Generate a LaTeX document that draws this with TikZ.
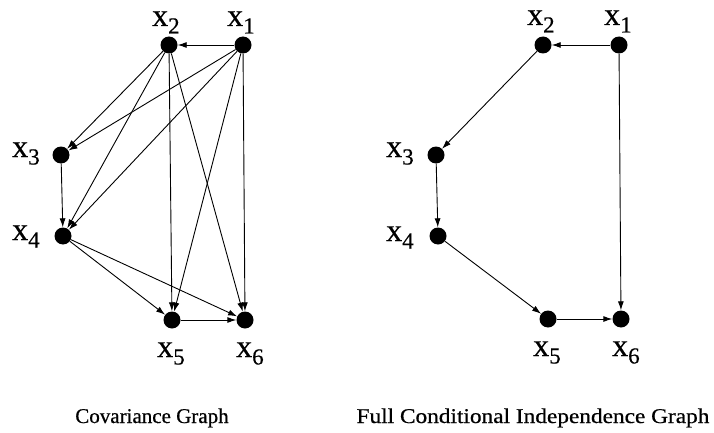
\documentclass[tikz,border=0pt]{standalone}
\usepackage{fontspec}
\setmainfont{Liberation Serif}
\newfontfamily\heavyfont[FakeBold=0.4]{Liberation Serif}
\newfontfamily\capfont[FakeBold=0.6]{Liberation Serif}
\usetikzlibrary{arrows.meta}
\newcommand{\xlab}[1]{{\heavyfont\fontsize{32}{32}\selectfont x}\raisebox{-7.5pt}{\heavyfont\fontsize{23}{23}\selectfont #1}}
\begin{document}
\begin{tikzpicture}[x=1pt,y=-1pt,
  dot/.style={circle,fill=black,inner sep=0pt,minimum size=17pt},
  lab/.style={anchor=base west,inner sep=0pt},
  conn/.style={line width=0.9pt,-{Latex[length=9pt,width=6pt]}},
  captxt/.style={font=\capfont\fontsize{21}{21}\selectfont,inner sep=0pt,anchor=base}]
\useasboundingbox (0,0) rectangle (714,433);
% left graph
\node[dot] (a1) at (243,45) {};
\node[dot] (a2) at (169,45) {};
\node[dot] (a3) at (61,155) {};
\node[dot] (a4) at (63,236) {};
\node[dot] (a5) at (172,320) {};
\node[dot] (a6) at (245,320) {};
\node[lab] (la1) at (227,26) {\xlab{1}};
\node[lab] (la2) at (152,26) {\xlab{2}};
\node[lab] (la3) at (12,157) {\xlab{3}};
\node[lab] (la4) at (12,240) {\xlab{4}};
\node[lab] (la5) at (157,357) {\xlab{5}};
\node[lab] (la6) at (236,357) {\xlab{6}};
\draw[conn] (a1) -- (a2);
\draw[conn] (a2) -- (a3);
\draw[conn] (a1) -- (a3);
\draw[conn] (a2) -- (a4);
\draw[conn] (a1) -- (a4);
\draw[conn] (a3) -- (a4);
\draw[conn] (a2) -- (a5);
\draw[conn] (a1) -- (a5);
\draw[conn] (a2) -- (a6);
\draw[conn] (a1) -- (a6);
\draw[conn] (a4) -- (a5);
\draw[conn] (a4) -- (a6);
\draw[conn] (a5) -- (a6);
% right graph
\node[dot] (b1) at (619,45) {};
\node[dot] (b2) at (543,45) {};
\node[dot] (b3) at (436,155) {};
\node[dot] (b4) at (438,236) {};
\node[dot] (b5) at (548,319) {};
\node[dot] (b6) at (621,319) {};
\node[lab] (lb1) at (604,25) {\xlab{1}};
\node[lab] (lb2) at (527,25) {\xlab{2}};
\node[lab] (lb3) at (386,157) {\xlab{3}};
\node[lab] (lb4) at (386,241) {\xlab{4}};
\node[lab] (lb5) at (533,356) {\xlab{5}};
\node[lab] (lb6) at (612,356) {\xlab{6}};
\draw[conn] (b1) -- (b2);
\draw[conn] (b2) -- (b3);
\draw[conn] (b3) -- (b4);
\draw[conn] (b4) -- (b5);
\draw[conn] (b5) -- (b6);
\draw[conn] (b1) -- (b6);
% captions
\node[captxt] (c1) at (152,423) {Covariance Graph};
\node[captxt] (c2) at (533,423) {\scalebox{1.11}[1]{Full Conditional Independence Graph}};
\end{tikzpicture}
\end{document}
